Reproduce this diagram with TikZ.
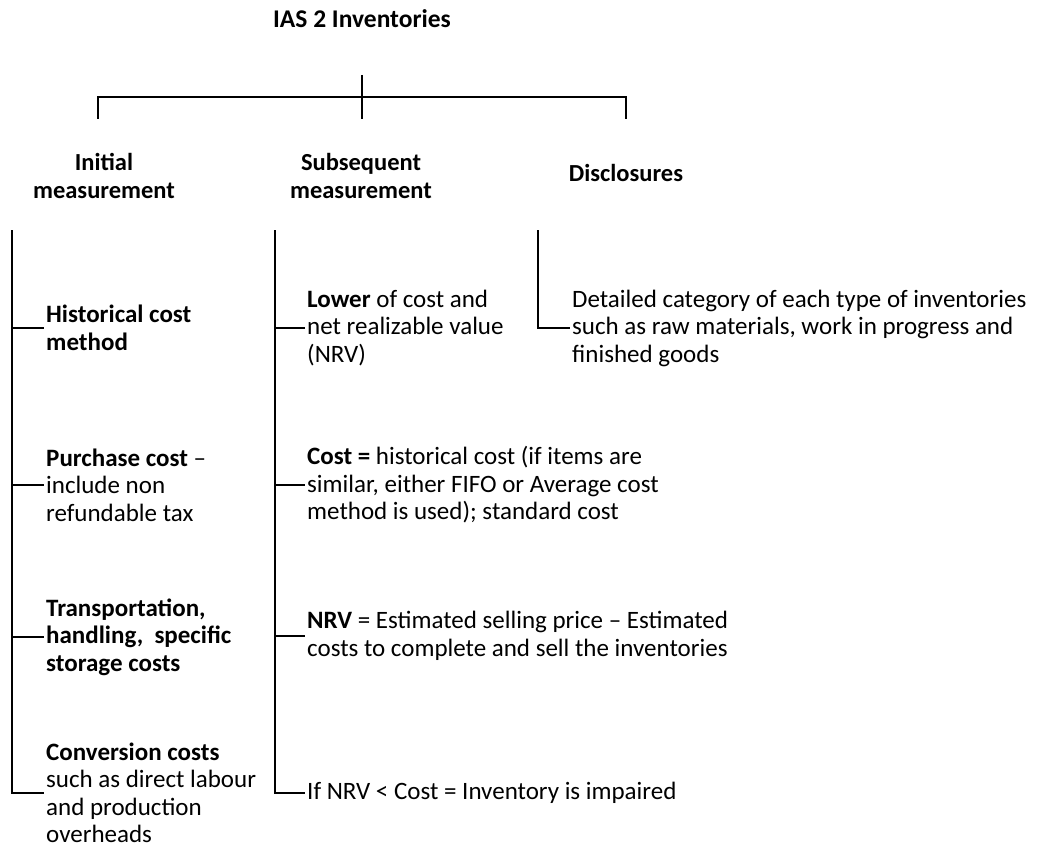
\documentclass[tikz,border=0pt]{standalone}
\usepackage{fontspec}
\setmainfont{Carlito}
\tikzset{item/.style={anchor=west, align=left, inner ysep=0pt, inner xsep=2pt, font=\fontsize{25}{27.5}\selectfont},
         head/.style={align=center, inner sep=0pt, font=\bfseries\fontsize{24.5}{27.5}\selectfont},
         tree line/.style={line width=1.2pt}}

\begin{document}
\begin{tikzpicture}[x=1pt,y=-1pt]
\useasboundingbox (0,0) rectangle (1038,845);

\node[head, font=\bfseries\fontsize{25.5}{28}\selectfont] (title) at (362,19) {IAS 2 Inventories};

\path  % the bar under the title and its three drops
  (362,75)  coordinate (bartop)
  (362,119) coordinate (barmid)
  (98,97)   coordinate (barleft)
  (626,97)  coordinate (barright)
  (98,119)  coordinate (dropleft)
  (626,119) coordinate (dropright)
  ;

\node[head] (initial)  at (104,176) {Initial\\measurement};
\node[head] (subseq)   at (361,176) {Subsequent\\measurement};
\node[head] (disclose) at (626,173) {Disclosures};

\path % tops of the three columns
  (12,230)  coordinate (Ltop)
  (275,230) coordinate (Mtop)
  (538,230) coordinate (Rtop)
  ;

% Initial measurement
\node[item] (hist)  at (44,328) {\bfseries Historical cost\\\bfseries method};
\node[item] (purch) at (44,485) {\textbf{Purchase cost} --\\include non\\refundable tax};
\node[item] (trans) at (44,637) {\bfseries Transportation,\\\bfseries handling,\ \ specific\\\bfseries storage costs};
\node[item] (conv)  at (44,793) {\textbf{Conversion costs}\\such as direct labour\\and production\\overheads};

% Subsequent measurement
\node[item] (lower)  at (305,328) {\textbf{Lower} of cost and\\net realizable value\\(NRV)};
\node[item] (cost)   at (305,485) {\textbf{Cost =} historical cost (if items are\\similar, either FIFO or Average cost\\method is used); standard cost};
\node[item] (nrv)    at (305,636) {\textbf{NRV} = Estimated selling price -- Estimated\\costs to complete and sell the inventories};
\node[item] (impair) at (305,793) {If NRV < Cost = Inventory is impaired};

% Disclosures
\node[item] (detail) at (570,328) {Detailed category of each type of inventories\\such as raw materials, work in progress and\\finished goods};

% the bar
\draw[tree line] (bartop) -- (barmid);
\draw[tree line] (dropleft) -- (barleft) -- (barright) -- (dropright);

% the columns
\draw[tree line] (Ltop) |- (conv.west);
\draw[tree line] (Ltop |- hist.west)  -- (hist.west);
\draw[tree line] (Ltop |- purch.west) -- (purch.west);
\draw[tree line] (Ltop |- trans.west) -- (trans.west);

\draw[tree line] (Mtop) |- (impair.west);
\draw[tree line] (Mtop |- lower.west) -- (lower.west);
\draw[tree line] (Mtop |- cost.west)  -- (cost.west);
\draw[tree line] (Mtop |- nrv.west)   -- (nrv.west);

\draw[tree line] (Rtop) |- (detail.west);

\end{tikzpicture}
\end{document}
